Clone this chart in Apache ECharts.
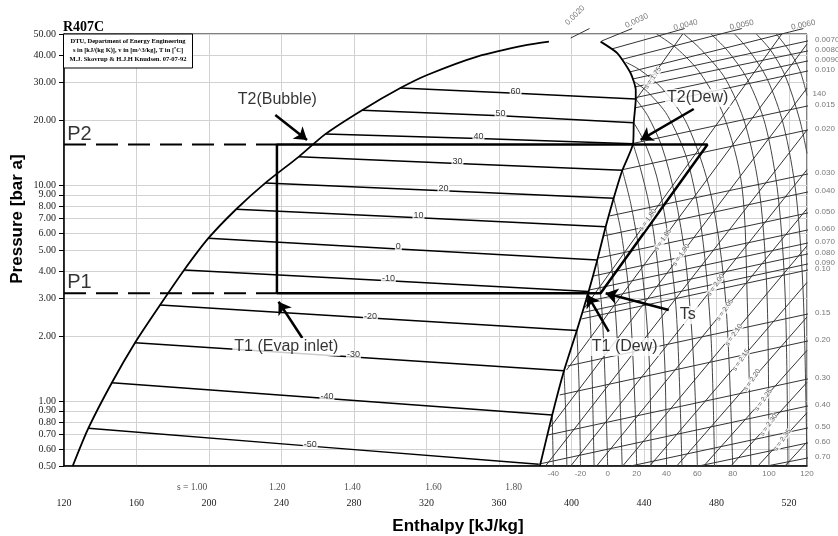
<!DOCTYPE html>
<html><head><meta charset="utf-8">
<script src="https://cdn.jsdelivr.net/npm/echarts@6/dist/echarts.min.js"></script>
<style>html,body{margin:0;padding:0;background:#fff}#c{width:838px;height:536px}</style>
</head><body><div id="c"></div>
<script>
// ---------------- DATA (enthalpy kJ/kg, pressure bar) ----------------
const pressureTicks = [0.5,0.6,0.7,0.8,0.9,1,2,3,4,5,6,7,8,9,10,20,30,40,50];

const bubbleLine = [[124.8,0.5],[133.4,0.747],[146.4,1.215],[159.2,1.86],[173.0,2.78],[186.3,4.04],[199.7,5.67],[215.0,7.72],[231.0,10.2],[249.5,13.5],[264.2,17.2],[284.5,22.2],[305.6,28.1],[320.4,32.3],[348,39.3],[375.6,44.5],[387.6,46.1]];
const dewLine = [[416.1,46.1],[425.4,40.7],[432.7,32.9],[435.5,27.5],[435.5,25.0],[434.4,19.4],[434.0,15.5],[428.1,11.7],[423.3,8.68],[418.9,6.41],[414.3,4.50],[409.5,3.21],[403.0,2.12],[395.9,1.38],[389.4,0.861],[382.6,0.5]];

const twoPhaseTemps = [60,50,40,30,20,10,0,-10,-20,-30,-40,-50];
const twoPhaseLines = [
  [[305.6,28.1],[369.2,26.6],[435.5,25.0]],
  [[284.5,22.2],[360.9,20.9],[434.4,19.4]],
  [[264.2,17.2],[348.7,16.4],[434.0,15.5]],
  [[249.5,13.5],[337.1,12.58],[428.1,11.7]],
  [[231.0,10.2],[329.4,9.40],[423.3,8.68]],
  [[215.0,7.72],[315.6,7.05],[418.9,6.41]],
  [[199.7,5.67],[304.5,5.06],[414.3,4.50]],
  [[186.3,4.04],[299.0,3.60],[409.5,3.21]],
  [[173.0,2.78],[289.1,2.42],[403.0,2.12]],
  [[159.2,1.86],[279.7,1.598],[395.9,1.38]],
  [[146.4,1.215],[265.1,1.027],[389.4,0.861]],
  [[133.4,0.747],[255.9,0.618],[382.0,0.509]]
];

const superIsotherms = [
  [[389.4,0.861],[390,0.5]],
  [[395.9,1.38],[396.8,0.9],[397.5,0.5]],
  [[403,2.12],[404.2,1.2],[405,0.5]],
  [[409.5,3.21],[411,1.8],[412.5,0.5]],
  [[414.3,4.5],[417,2.5],[419,1],[420,0.5]],
  [[418.9,6.41],[422.5,4],[426,1.5],[428,0.5]],
  [[423.3,8.68],[427.5,6],[432,3],[435,1],[436,0.5]],
  [[428.1,11.7],[433,8],[439,4],[443,1.5],[444,0.5]],
  [[434,15.5],[438,12],[443,8],[448,4],[451.5,1.5],[452.5,0.5]],
  [[434.4,19.4],[440,16],[447,11],[453,6],[458,2.5],[461,0.5]],
  [[435.5,25],[442,21],[450,15],[457,9],[463,4.5],[467.5,1.5],[469.5,0.5]],
  [[435,30],[442,27],[453,21],[464,13],[472,6],[477,2],[479,0.5]],
  [[430,37],[438,34],[450,28],[464,19],[477,9],[485,3],[489,0.5]],
  [[447,50],[458,43],[471,33],[484,21],[494,10],[497,3],[499,0.5]],
  [[462,50],[472,42],[485,31],[496,19],[504,9],[508,3],[509,0.5]],
  [[477,50],[486,42],[497,31],[507,19],[514,9],[518,3],[519.5,0.5]],
  [[490,50],[498,42],[508,31],[517,19],[524,9],[528,3],[530,0.5]],
  [[502,50],[510,42],[518,32],[526,20],[530,14]],
  [[513,50],[520,42],[526,34],[530,26]]
];
const bottomTempLabels = [['-40',390],['-20',405],['0',420],['20',436],['40',452.5],['60',469.5],['80',489],['100',509],['120',530]];
const rightTempLabels = [['140',530,26.4]];

const isentropes = [
  [[435.5,24.75],[461.4,50]],
  [[407.3,2.70],[516.1,50]],
  [[397.3,1.39],[530,44.97]],
  [[388.5,0.758],[530,28.1]],
  [[385.7,0.5],[530,17.97]],
  [[399.6,0.5],[530,11.77]],
  [[413.9,0.5],[530,7.77]],
  [[428.3,0.5],[530,5.23]],
  [[443.2,0.5],[530,3.54]],
  [[458.1,0.5],[530,2.45]],
  [[473.0,0.5],[530,1.715]],
  [[488.0,0.5],[530,1.22]],
  [[502.9,0.5],[530,0.882]],
  [[517.8,0.5],[530,0.646]]
];
const isentropeLabels = [['s = 1.75',444.9,31.3],['s = 1.80',442.1,6.89],['s = 1.85',450.4,5.57],['s = 1.90',460.5,4.74],['s = 2.00',479.6,3.44],['s = 2.05',484.6,2.64],['s = 2.10',489.6,2.02],['s = 2.15',493.6,1.548],['s = 2.20',499.6,1.251],['s = 2.25',505.9,1.011],['s = 2.30',508.8,0.774],['s = 2.35',516.4,0.660]];

const isochoreNames = ['0.70','0.60','0.50','0.40','0.30','0.20','0.15','0.10','0.090','0.080','0.070','0.060','0.050','0.040','0.030','0.020','0.015','0.010','0.0090','0.0080','0.0070'];
const isochores = [
  [[507.8,0.5],[533,0.55]],
  [[470.3,0.5],[533,0.646]],
  [[432.7,0.5],[533,0.758]],
  [[382.4,0.511],[533,0.958]],
  [[387.1,0.696],[533,1.278]],
  [[393.5,1.066],[533,1.916]],
  [[397.9,1.452],[533,2.555]],
  [[405.6,2.397],[533,4.085]],
  [[406.5,2.57],[533,4.355]],
  [[408.1,2.883],[533,4.845]],
  [[410.0,3.265],[533,5.446]],
  [[412.2,3.79],[533,6.257]],
  [[415.0,4.59],[533,7.50]],
  [[417.8,5.81],[533,9.38]],
  [[421.1,7.19],[533,11.36]],
  [[428.6,11.79],[533,18.17]],
  [[433.8,15.56],[533,23.47]],
  [[434.9,22.73],[533,34.07]],
  [[435.5,25.39],[533,37.91]],
  [[434.9,28.43],[533,42.17]],
  [[433.8,30.95],[533,46.93]],
  [[432.2,33.36],[528,53]],
  [[427.7,38.11],[494,53]],
  [[422.2,42.62],[462.5,53]],
  [[416.7,46.42],[433.5,53]],
  [[399.6,47.9],[410,53]]
];
const isochoreRightLabelP = [0.55,0.646,0.758,0.958,1.278,1.916,2.555,4.085,4.355,4.845,5.446,6.257,7.50,9.38,11.36,18.17,23.47,34.07,37.91,42.17,46.93];
const isochoreTopLabels = [['0.0060',528,55],['0.0050',494,55],['0.0040',463,55],['0.0030',436,57.5],['0.0020',402,61]];
const isochoreTopRot = [12,12,15,25,45];

const entropyBottomLabels = [['s = 1.00',190.7],['1.20',237.7],['1.40',279.1],['1.60',323.9],['1.80',368.1]];

const cyclePath = [[237.5,3.15],[237.5,15.4],[475.1,15.4],[416.1,3.15],[237.5,3.15]];
const pressureLevels = [['P2',15.4,17.2],['P1',3.15,3.52]];
const arrowLines = [
  [[236.6,21.09],[254.1,16.16]],
  [[251.5,1.957],[238.4,2.88]],
  [[420.6,2.094],[408.8,3.095]],
  [[453.7,2.638],[418.9,3.152]],
  [[467.5,22.48],[438.2,16.16]]
];
const annotations = [['T2(Bubble)',237.7,24.75],['T1 (Evap inlet)',242.7,1.778],['T1 (Dew)',429.4,1.778],['Ts',464.2,2.50],['T2(Dew)',469.7,25.28]];

// ---------------- CHART ----------------
const SANS = 'Liberation Sans', SERIF = 'Liberation Serif';
const chart = echarts.init(document.getElementById('c'));
const series = [];
function lineS(data, style, z, extra) {
  return Object.assign({type:'line', data, symbol:'none', showSymbol:false, silent:true, animation:false, z,
    lineStyle:Object.assign({type:'solid'}, style)}, extra||{});
}
function textS(items, label, z) {
  return {type:'scatter', symbolSize:1, itemStyle:{color:'transparent'}, silent:true, animation:false, clip:false, z,
    data: items.map(d => ({name:d[0], value:[d[1], d[2]]})),
    label: Object.assign({show:true, formatter:'{b}', position:'inside'}, label)};
}

// gridlines + y labels (drawn beneath everything)
series.push({type:'line', data:[], z:0, silent:true, animation:false,
  markLine:{z:0, silent:true, animation:false, symbol:['none','none'],
    lineStyle:{color:'#d2d2d2', width:1, type:'solid'},
    label:{show:true, position:'start', distance:8, formatter:p=>Number(p.value).toFixed(2), fontFamily:SERIF, fontSize:10, color:'#222'},
    data: pressureTicks.map(p => ({yAxis:p}))}});

// mesh
const meshStyle = {color:'#333', width:1};
superIsotherms.forEach(l => series.push(lineS(l, {color:'#444', width:1}, 2, {smooth:0.3})));
isentropes.forEach(l => series.push(lineS(l, meshStyle, 2)));
isochores.forEach(l => series.push(lineS(l, meshStyle, 2, {clip:false})));

// two-phase isotherms
twoPhaseLines.forEach(l => series.push(lineS(l, {color:'#000', width:1.5}, 3)));
// dome
series.push(lineS(bubbleLine, {color:'#000', width:1.8}, 4, {smooth:0.25}));
series.push(lineS(dewLine, {color:'#000', width:1.8}, 4, {smooth:0.2}));
// dashed pressure levels
pressureLevels.forEach(d => series.push(lineS([[120,d[1]],[237.5,d[1]]], {color:'#000', width:2, type:[22,10]}, 6)));
// cycle
series.push(lineS(cyclePath, {color:'#000', width:2.5}, 6));
// arrows
series.push({type:'line', data:[], z:7, silent:true, animation:false,
  markLine:{z:7, silent:true, animation:false, symbol:['none','arrow'], symbolSize:12,
    lineStyle:{color:'#000', width:2.5, type:'solid'}, label:{show:false},
    data: arrowLines.map(a => [{coord:a[0]},{coord:a[1]}])}});

// labels
series.push(textS(twoPhaseLines.map((l,i)=>[String(twoPhaseTemps[i]), l[1][0], l[1][1]]),
  {fontFamily:SANS, fontSize:9, color:'#000', backgroundColor:'#fff', padding:[0,1], offset:[0,-2]}, 8));
series.push(textS(annotations, {fontFamily:SANS, fontSize:16, color:'#000', backgroundColor:'#fff', padding:[1,2]}, 9));
series.push(textS(pressureLevels.map(d=>[d[0],121.5,d[2]]), {fontFamily:SANS, fontSize:20, color:'#000', position:'right', distance:0}, 9));
series.push(textS(bottomTempLabels.map(d=>[d[0],d[1],0.5]), {fontFamily:SANS, fontSize:8, color:'#555', position:'bottom', distance:3}, 9));
series.push(textS(rightTempLabels, {fontFamily:SANS, fontSize:8, color:'#555', position:'right', distance:5}, 9));
series.push(textS(isochoreRightLabelP.map((p,i)=>[isochoreNames[i],533,p]), {fontFamily:SANS, fontSize:8, color:'#555', position:'right', distance:2}, 9));
const topLab = textS(isochoreTopLabels, {fontFamily:SANS, fontSize:8, color:'#555'}, 9);
topLab.data.forEach((d,i)=>{ d.label = {rotate:isochoreTopRot[i]}; });
series.push(topLab);
series.push(textS(isentropeLabels, {fontFamily:SANS, fontSize:7, color:'#333', rotate:55, backgroundColor:'#fff', padding:0}, 8));
series.push(textS(entropyBottomLabels.map(d=>[d[0],d[1],0.5]), {fontFamily:SERIF, fontSize:9.5, color:'#222', position:'inside', offset:[0,21]}, 9));

chart.setOption({
  animation:false,
  backgroundColor:'#fff',
  grid:{left:64, right:31, top:34, bottom:70, show:true, borderColor:'#000', borderWidth:1, backgroundColor:'transparent'},
  xAxis:{type:'value', min:120, max:530, interval:40, z:0,
    axisLine:{show:true, lineStyle:{color:'#000', width:1.5}},
    axisTick:{show:false},
    axisLabel:{margin:32, fontFamily:SERIF, fontSize:10, color:'#222', formatter:v => ((v-120)%40===0 ? String(v) : '')},
    splitLine:{show:true, lineStyle:{color:'#d2d2d2', width:1}}},
  yAxis:{type:'log', logBase:10, min:0.5, max:50, z:0,
    axisLine:{show:true, lineStyle:{color:'#000', width:1.5}},
    axisTick:{show:true, customValues:pressureTicks, length:5, lineStyle:{color:'#000'}},
    axisLabel:{show:false},
    splitLine:{show:false}, minorTick:{show:false}},
  graphic:[
    {type:'text', x:63, y:27, z:100, style:{text:'R407C', font:'bold 14px "Liberation Serif"', fill:'#000', textVerticalAlign:'middle'}},
    {type:'rect', z:100, shape:{x:63.5, y:34, width:129, height:34}, style:{fill:'#fff', stroke:'#000', lineWidth:1}},
    {type:'text', x:128, y:37, z:101, style:{text:'DTU, Department of Energy Engineering\ns in [kJ/(kg K)], v in [m^3/kg], T in [ºC]\nM.J. Skovrup & H.J.H Knudsen. 07-07-92', font:'bold 6.5px "Liberation Serif"', fill:'#000', textAlign:'center', lineHeight:9}},
    {type:'text', x:17, y:219, rotation:Math.PI/2, z:100, style:{text:'Pressure [bar a]', font:'bold 17px "Liberation Sans"', fill:'#000', textAlign:'center', textVerticalAlign:'middle'}},
    {type:'text', x:458, y:526, z:100, style:{text:'Enthalpy [kJ/kg]', font:'bold 17px "Liberation Sans"', fill:'#000', textAlign:'center', textVerticalAlign:'middle'}}
  ],
  series
});
</script></body></html>
